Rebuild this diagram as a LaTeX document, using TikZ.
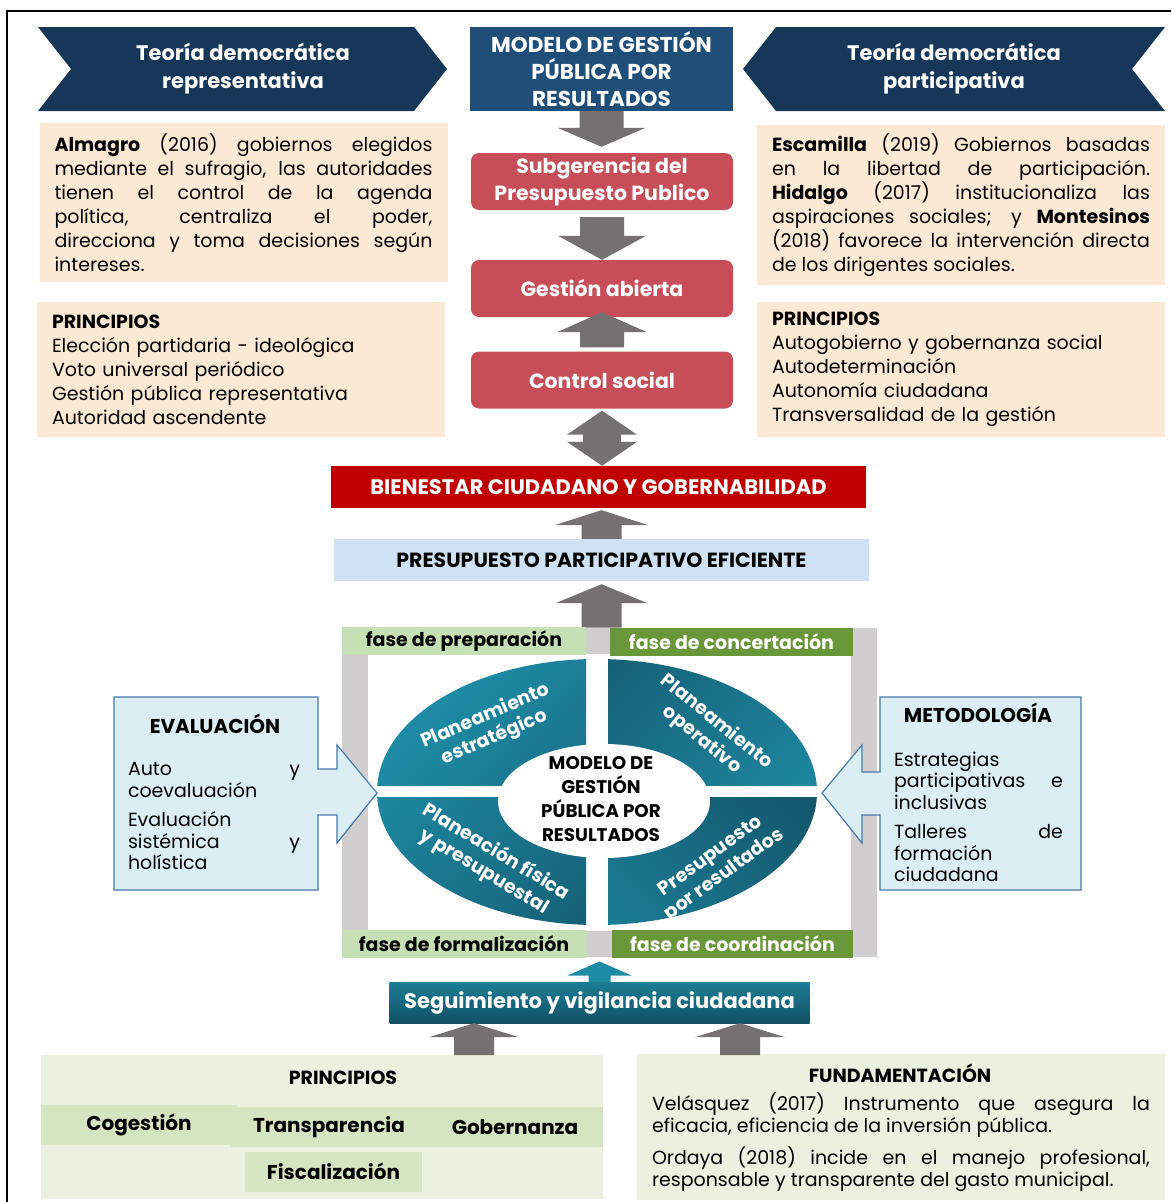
\documentclass[tikz,border=0pt]{standalone}
\usepackage{fontspec}
\setmainfont{Poppins}
\usetikzlibrary{calc}

\definecolor{navy}{RGB}{23,55,89}
\definecolor{modelblue}{RGB}{31,78,121}
\definecolor{boxred}{RGB}{199,78,88}
\definecolor{deepred}{RGB}{192,0,0}
\definecolor{beige}{RGB}{251,233,211}
\definecolor{arrowgray}{RGB}{118,113,113}
\definecolor{paleblue}{RGB}{207,226,243}
\definecolor{framegray}{RGB}{208,206,206}
\definecolor{lightgreen}{RGB}{197,224,180}
\definecolor{darkgreen}{RGB}{104,150,56}
\definecolor{teallight}{RGB}{30,139,165}
\definecolor{tealdark}{RGB}{18,82,102}
\definecolor{callfill}{RGB}{218,238,243}
\definecolor{callline}{RGB}{74,122,166}
\definecolor{sagebg}{RGB}{234,241,222}
\definecolor{sagecell}{RGB}{214,229,193}

% fat block arrows between two anchors
\tikzset{
  shaftw/.store in=\fatshaft, headw/.store in=\fathead, headl/.store in=\fatlen,
  shaftw=22pt, headw=44pt, headl=20pt,
  fatdown/.style={to path={let \p1=(\tikztostart), \p2=(\tikztotarget) in
    (\x1-\fatshaft,\y1) -- (\x1-\fatshaft,\y2+\fatlen) -- (\x1-\fathead,\y2+\fatlen) -- (\x1,\y2)
    -- (\x1+\fathead,\y2+\fatlen) -- (\x1+\fatshaft,\y2+\fatlen) -- (\x1+\fatshaft,\y1) -- cycle}},
  fatup/.style={to path={let \p1=(\tikztostart), \p2=(\tikztotarget) in
    (\x1-\fatshaft,\y1) -- (\x1-\fatshaft,\y2-\fatlen) -- (\x1-\fathead,\y2-\fatlen) -- (\x1,\y2)
    -- (\x1+\fathead,\y2-\fatlen) -- (\x1+\fatshaft,\y2-\fatlen) -- (\x1+\fatshaft,\y1) -- cycle}},
  fatboth/.style={to path={let \p1=(\tikztostart), \p2=(\tikztotarget) in
    (\x1,\y1) -- (\x1+\fathead,\y1-\fatlen) -- (\x1+\fatshaft,\y1-\fatlen) -- (\x1+\fatshaft,\y2+\fatlen)
    -- (\x1+\fathead,\y2+\fatlen) -- (\x1,\y2) -- (\x1-\fathead,\y2+\fatlen) -- (\x1-\fatshaft,\y2+\fatlen)
    -- (\x1-\fatshaft,\y1-\fatlen) -- (\x1-\fathead,\y1-\fatlen) -- cycle}}
}

\begin{document}
\begin{tikzpicture}[x=1pt, y=-1pt,
  every node/.style={inner sep=0pt},
  bantxt/.style={text=white, font=\bfseries\fontsize{21}{28}\selectfont, align=center},
  modelbox/.style={fill=modelblue, text=white, font=\bfseries\fontsize{21.5}{27}\selectfont, align=center, minimum width=263pt, minimum height=84pt},
  redbox/.style={fill=boxred, rounded corners=8pt, text=white, font=\bfseries\fontsize{20.5}{27}\selectfont, align=center, minimum width=262pt, minimum height=57pt},
  widebox/.style={minimum width=535pt, minimum height=42pt},
  notebox/.style={fill=beige, text width=378pt, inner xsep=15pt, font=\fontsize{19}{24}\selectfont},
  fase/.style={minimum height=28pt, font=\bfseries\fontsize{19}{22}\selectfont},
  ringtxt/.style={text=white, font=\bfseries\fontsize{19}{23}\selectfont, align=center},
  calltitle/.style={font=\bfseries\fontsize{20}{24}\selectfont},
  calltxt/.style={font=\fontsize{19}{21.5}\selectfont, align=left},
  callout/.style={fill=callfill, draw=callline, line width=1.2pt},
  cell/.style={fill=sagecell, minimum height=40pt},
  celltxt/.style={font=\bfseries\fontsize{20}{24}\selectfont}]
\useasboundingbox (0,0) rectangle (1171,1202);
\draw[line width=2pt] (7,1202) |- (1171,11);

% banners
\fill[navy] (38,27) -- (414,27) -- (447,69) -- (414,111) -- (38,111) -- (71,69) -- cycle;
\node[bantxt] (repr) at (243,69) {Teoría democrática\\representativa};
\fill[navy] (743,69) -- (776,27) -- (1165,27) -- (1132,69) -- (1165,111) -- (776,111) -- cycle;
\node[bantxt] (part) at (954,69) {Teoría democrática\\participativa};

% centre column
\node[modelbox] (modelo) at (601.5,69) {MODELO DE GESTIÓN\\PÚBLICA POR\\RESULTADOS};
\node[redbox] (subg) at (602,181.5) {Subgerencia del\\Presupuesto Publico};
\node[redbox] (gest) at (602,288.5) {Gestión abierta};
\node[redbox] (ctrl) at (602,380) {Control social};
\node[widebox, fill=deepred, text=white, font=\bfseries\fontsize{21}{24}\selectfont] (bien) at (598.5,487) {BIENESTAR CIUDADANO Y GOBERNABILIDAD};
\node[widebox, fill=paleblue, font=\bfseries\fontsize{20.5}{24}\selectfont] (pres) at (601.5,560) {PRESUPUESTO PARTICIPATIVO EFICIENTE};

% side notes
\node[notebox, minimum height=159pt, align=justify] (almagro) at (243.5,202.5)
  {\textbf{Almagro} (2016) gobiernos elegidos\linebreak mediante el sufragio, las autoridades\linebreak tienen el control de la agenda\linebreak política, centraliza el poder,\linebreak direcciona y toma decisiones según\linebreak intereses.};
\node[notebox, minimum height=135pt, align=left] (prinrep) at (241,369.5)
  {\textbf{PRINCIPIOS}\\Elección partidaria - ideológica\\Voto universal periódico\\Gestión pública representativa\\Autoridad ascendente};
\node[notebox, minimum height=160pt, align=justify] (escam) at (961,205)
  {\textbf{Escamilla} (2019) Gobiernos basadas\linebreak en la libertad de participación.\linebreak \textbf{Hidalgo} (2017) institucionaliza las\linebreak aspiraciones sociales; y \textbf{Montesinos}\linebreak (2018) favorece la intervención directa\linebreak de los dirigentes sociales.};
\node[notebox, minimum height=135pt, align=left] (prinpar) at (961,369.5)
  {\textbf{PRINCIPIOS}\\Autogobierno y gobernanza social\\Autodeterminación\\Autonomía ciudadana\\Transversalidad de la gestión};

% arrows of the centre column
\fill[arrowgray, headl=19pt] (modelo.south) to[fatdown] ([yshift=6pt]subg.north);
\fill[arrowgray, headl=24pt] ([yshift=-7pt]subg.south) to[fatdown] (gest.north);
\fill[arrowgray, headw=45pt] ([yshift=4pt]ctrl.north) to[fatup] ([yshift=5pt]gest.south);
\fill[arrowgray, shaftw=19pt, headw=35pt, headl=24pt] ([yshift=-2pt]ctrl.south) to[fatboth] (bien.north);
\fill[arrowgray, shaftw=20pt, headw=47pt, headl=15pt] (pres.north) to[fatup] ([yshift=-2pt]bien.south);

% phases frame
\node[draw=framegray, line width=26pt, minimum width=509pt, minimum height=303pt, outer sep=13pt] (ring) at (609.5,792) {};
\fill[arrowgray, shaftw=20pt, headw=46pt, headl=19pt] (ring.north -| pres.south) to[fatup] ([yshift=-3pt]pres.south);
\node[fase, fill=lightgreen, minimum width=244pt] (prep) at (464,641) {fase de preparación};
\node[fase, fill=darkgreen, text=white, minimum width=243pt] (conc) at (731.5,641.5) {fase de concertación};
\node[fase, fill=lightgreen, minimum width=244pt] (form) at (464,943.5) {fase de formalización};
\node[fase, fill=darkgreen, text=white, minimum width=241pt] (coord) at (732.5,943.5) {fase de coordinación};

% ring of four parts
\begin{scope}
  \clip (360,650) rectangle (586,785);
  \shade[top color=teallight, bottom color=tealdark, shading angle=45] (597,792) ellipse [x radius=220, y radius=133];
\end{scope}
\begin{scope}
  \clip (608,650) rectangle (830,785);
  \shade[top color=tealdark, bottom color=teallight, shading angle=45] (597,792) ellipse [x radius=220, y radius=133];
\end{scope}
\begin{scope}
  \clip (360,797) rectangle (586,935);
  \shade[top color=teallight, bottom color=tealdark, shading angle=45] (597,792) ellipse [x radius=220, y radius=133];
\end{scope}
\begin{scope}
  \clip (608,797) rectangle (830,935);
  \shade[top color=tealdark, bottom color=teallight, shading angle=-45] (597,792) ellipse [x radius=220, y radius=133];
\end{scope}
\fill[white] (604,801) ellipse [x radius=106, y radius=57];
\node[ringtxt, rotate=23] (qa) at (490,727) {Planeamiento\\estratégico};
\node[ringtxt, rotate=-39] (qb) at (709,731) {Planeamiento\\operativo};
\node[ringtxt, rotate=-31] (qc) at (490,862) {Planeación física\\y presupuestal};
\node[ringtxt, rotate=36] (qd) at (718,866) {Presupuesto\\por resultados};
\node[font=\bfseries\fontsize{18.3}{24}\selectfont, align=center] (core) at (601,799) {MODELO DE\\GESTIÓN\\PÚBLICA POR\\RESULTADOS};

% callouts
\draw[callout] (114,697) -- (318,697) -- (318,769) -- (337,769) -- (337,745) -- (377,793) -- (337,843)
  -- (337,815) -- (318,815) -- (318,890) -- (114,890) -- cycle;
\node[calltitle] (eval) at (215,724) {EVALUACIÓN};
\node[calltxt, text width=172pt] (evaltxt) at (214,816)
  {Auto\hfill y\\coevaluación\\[8pt]Evaluación\\sistémica\hfill y\\holística};
\draw[callout] (880,697) -- (1081,697) -- (1081,890) -- (880,890) -- (880,815) -- (862,815) -- (862,843)
  -- (822,793) -- (862,745) -- (862,772) -- (880,772) -- cycle;
\node[calltitle] (metodo) at (978,713) {METODOLOGÍA};
\node[calltxt, text width=169pt] (metotxt) at (978.5,817)
  {Estrategias\\participativas\hfill e\\inclusivas\\[8pt]Talleres\hfill de\\formación\\ciudadana};

% follow-up
\node[top color=teallight!90!black, bottom color=tealdark, minimum width=420pt, minimum height=41pt,
  text=white, font=\bfseries\fontsize{21}{24}\selectfont] (seg) at (599.5,1002.5) {Seguimiento y vigilancia ciudadana};
\fill[teallight, shaftw=11pt, headw=32pt, headl=14pt] (seg.north) to[fatup] ([yshift=-5pt]seg.north |- ring.south);

% bottom boxes
\node[fill=sagebg, minimum width=562pt, minimum height=144pt] (princ) at (322,1127) {};
\node[font=\bfseries\fontsize{19}{24}\selectfont] (printitle) at (343,1078) {PRINCIPIOS};
\node[cell, minimum width=196pt] (cogcell) at (139,1125) {};
\node[cell, minimum width=372pt] (tgcell) at (417,1127) {};
\node[cell, minimum width=177pt] (fiscell) at (333.5,1172) {};
\node[celltxt] (cog) at (139,1125) {Cogestión};
\node[celltxt] (trans) at (329,1127) {Transparencia};
\node[celltxt] (gob) at (515,1127) {Gobernanza};
\node[celltxt] (fisc) at (333.5,1171) {Fiscalización};

\node[fill=sagebg, minimum width=528pt, minimum height=146pt] (fund) at (901,1127) {};
\node[font=\bfseries\fontsize{19}{24}\selectfont] (fundtitle) at (900,1073) {FUNDAMENTACIÓN};
\node[font=\fontsize{19}{22}\selectfont, text width=498pt, align=justify] (fundtxt) at (901,1142)
  {Velásquez (2017) Instrumento que asegura la\linebreak eficacia, eficiencia de la inversión pública.\\[8pt]
   Ordaya (2018) incide en el manejo profesional,\linebreak responsable y transparente del gasto municipal.};

\coordinate (la) at (474,1055);
\coordinate (ra) at (740,1055);
\fill[arrowgray, shaftw=20pt, headw=45pt, headl=14pt] (la) to[fatup] (la |- seg.south);
\fill[arrowgray, shaftw=20pt, headw=45pt, headl=14pt] (ra) to[fatup] (ra |- seg.south);
\end{tikzpicture}
\end{document}
